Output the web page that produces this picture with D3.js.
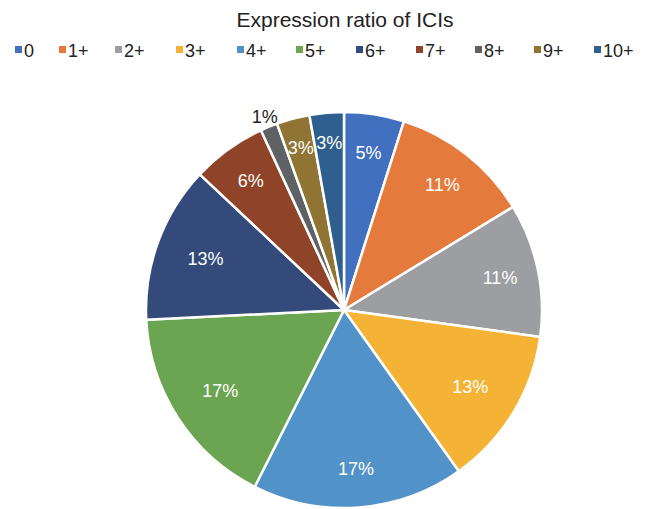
<!DOCTYPE html>
<html>
<head>
<meta charset="utf-8">
<script src="https://cdn.jsdelivr.net/npm/d3@7"></script>
<style>
  body { margin: 0; background: #fff; }
  svg { font-family: "Liberation Sans", Arial, sans-serif; }
</style>
</head>
<body>
<div id="chart"></div>
<script>
// categories and shares (percent)
var categories = ["0", "1+", "2+", "3+", "4+", "5+", "6+", "7+", "8+", "9+", "10+"];
var shares = [4.9, 11.4, 10.9, 13.0, 17.3, 16.8, 12.8, 6.1, 1.4, 2.7, 2.8];
var colors = ["#4070BF", "#E57A3D", "#9D9EA2", "#F4B334", "#5192C9", "#6CA551",
              "#334A7B", "#8F4429", "#5F6265", "#8F7434", "#2F5F8E"];
var title = "Expression ratio of ICIs";

var w = 649, h = 509;
var cx = 344, cy = 310, r = 198;

var svg = d3.select("#chart").append("svg")
    .attr("width", w)
    .attr("height", h);

// title
svg.append("text")
    .attr("x", 345)
    .attr("y", 27)
    .attr("text-anchor", "middle")
    .attr("font-size", 21)
    .attr("fill", "#222")
    .text(title);

// legend
var legendX = [15, 59, 115, 176, 237, 296, 356, 416, 475, 534, 594];
var legend = svg.append("g").selectAll("g")
    .data(categories)
    .enter()
    .append("g")
    .attr("transform", function(d, i) { return "translate(" + legendX[i] + ",0)"; });

legend.append("rect")
    .attr("x", 0)
    .attr("y", 46)
    .attr("width", 7)
    .attr("height", 7)
    .attr("fill", function(d, i) { return colors[i]; });

legend.append("text")
    .attr("x", 9)
    .attr("y", 57)
    .attr("font-size", 18)
    .attr("fill", "#222")
    .text(function(d) { return d; });

// pie
var total = d3.sum(shares);
var pie = d3.pie().sort(null).value(function(d) { return d; });
var arcs = pie(shares);

var arc = d3.arc().innerRadius(0).outerRadius(r);

var g = svg.append("g").attr("transform", "translate(" + cx + "," + cy + ")");

g.selectAll("path")
    .data(arcs)
    .enter()
    .append("path")
    .attr("d", arc)
    .attr("fill", function(d, i) { return colors[i]; })
    .attr("stroke", "#fff")
    .attr("stroke-width", 2.5)
    .attr("stroke-linejoin", "round");

// label radius roughly like Excel's "best fit"
function labelRadius(d) {
  var f = d.data / total;
  var mid = (d.startAngle + d.endAngle) / 2;
  if (f < 0.02) return r + 11;              // tiny slice: outside
  if (f < 0.04) return r * 0.85;
  if (f > 0.12 && Math.abs(Math.sin(mid)) > 0.5) return r * 0.745;
  return r * 0.805;
}

g.selectAll("text.lbl")
    .data(arcs)
    .enter()
    .append("text")
    .attr("class", "lbl")
    .attr("transform", function(d) {
      var lr = labelRadius(d);
      var c = d3.arc().innerRadius(lr).outerRadius(lr).centroid(d);
      return "translate(" + c[0] + "," + c[1] + ")";
    })
    .attr("dy", "0.35em")
    .attr("text-anchor", "middle")
    .attr("font-size", 18)
    .attr("fill", function(d) { return d.data / total < 0.02 ? "#222" : "#fff"; })
    .text(function(d) { return Math.round(d.data / total * 100) + "%"; });
</script>
</body>
</html>
